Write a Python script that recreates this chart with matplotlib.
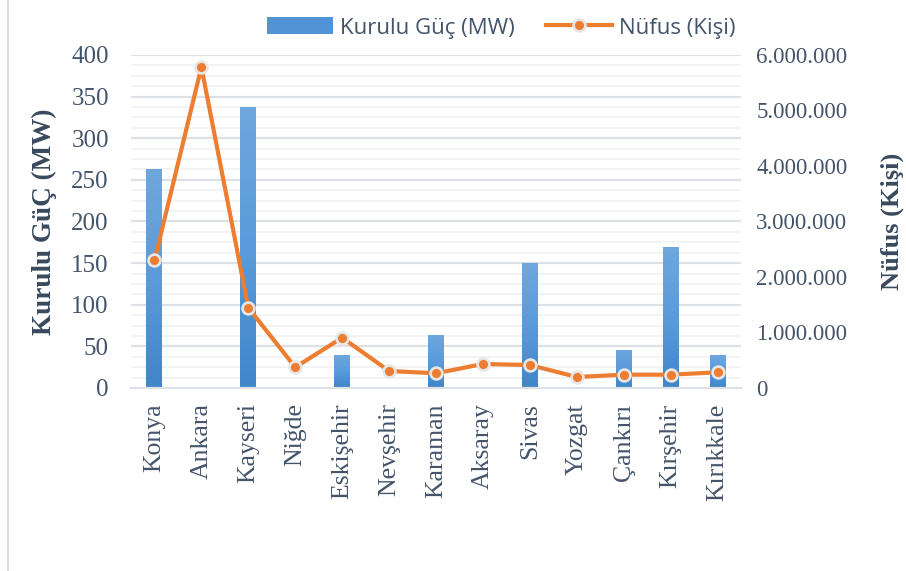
import matplotlib.pyplot as plt
import numpy as np
from matplotlib.ticker import MultipleLocator, FuncFormatter
from matplotlib.lines import Line2D
from matplotlib.patches import Patch
from matplotlib.colors import LinearSegmentedColormap

# veriler
iller = ['Konya', 'Ankara', 'Kayseri', 'Niğde', 'Eskişehir', 'Nevşehir', 'Karaman',
         'Aksaray', 'Sivas', 'Yozgat', 'Çankırı', 'Kırşehir', 'Kırıkkale']
kurulu_guc = [263, 0, 337, 0, 40, 0, 64, 0, 150, 0, 46, 169, 40]
nufus = [2300000, 5780000, 1447000, 373000, 906000, 306000, 265000,
         432000, 414000, 198000, 240000, 240000, 283000]

serif = ['Liberation Serif', 'DejaVu Serif']
yazi_renk = '#44546A'
baslik_renk = '#3A4A5E'
turuncu = '#ED7D31'

fig = plt.figure(figsize=(9.06, 5.71), dpi=100)
ax = fig.add_axes([0.1446, 0.3205, 0.6733, 0.5832])
ax2 = ax.twinx()

x = np.arange(len(iller))
bar_w = 0.34

# grid
ax.set_ylim(0, 400)
ax.yaxis.set_major_locator(MultipleLocator(50))
ax.yaxis.set_minor_locator(MultipleLocator(12.5))
ax.grid(axis='y', which='major', color='#DDE1E6', linewidth=1.6, zorder=0)
ax.grid(axis='y', which='minor', color='#F1F2F4', linewidth=1.3, zorder=0)
ax.set_axisbelow(True)

# barlar (gradyan)
bars = ax.bar(x, kurulu_guc, width=bar_w, color='none', edgecolor='none', zorder=2)
grad = np.linspace(0, 1, 256).reshape(-1, 1)
cmap = LinearSegmentedColormap.from_list('mavi', ['#3F86C8', '#5B9BDB', '#6EA7DD'])
for b in bars:
    h = b.get_height()
    if h <= 0:
        continue
    x0 = b.get_x()
    im = ax.imshow(grad, cmap=cmap, aspect='auto', origin='lower',
                   extent=[x0, x0 + b.get_width(), 0, h], zorder=2)
    im.set_clip_path(b)
ax.set_xlim(-0.5, len(iller) - 0.5)

# çizgi
ax2.plot(x, nufus, color=turuncu, linewidth=3, marker='o', markersize=8.5,
         markerfacecolor=turuncu, markeredgecolor='#E6E6E6', markeredgewidth=1.9, zorder=3)
ax2.set_ylim(0, 6000000)
ax2.yaxis.set_major_locator(MultipleLocator(1000000))
ax2.yaxis.set_major_formatter(FuncFormatter(lambda v, p: f'{int(v):,}'.replace(',', '.')))

for a in (ax, ax2):
    for s in a.spines.values():
        s.set_visible(False)
ax.spines['bottom'].set_visible(True)
ax.spines['bottom'].set_color('#DDE1E6')
ax.spines['bottom'].set_linewidth(1.6)

ax.tick_params(axis='y', which='both', length=0, pad=16, labelsize=18, labelcolor=yazi_renk)
ax2.tick_params(axis='y', which='both', length=0, pad=11, labelsize=16.5, labelcolor=yazi_renk)
ax.tick_params(axis='x', length=0, pad=11, labelsize=18.5, labelcolor=yazi_renk)
ax.set_xticks(x)
ax.set_xticklabels(iller, rotation=90)
for lab in ax.get_xticklabels() + ax.get_yticklabels() + ax2.get_yticklabels():
    lab.set_family(serif)

ax.set_ylabel('Kurulu GüÇ (MW)', family=serif, fontsize=19.5, fontweight='bold',
              color=baslik_renk, labelpad=10)
ax2.set_ylabel('Nüfus (Kişi)', family=serif, fontsize=19, fontweight='bold',
               color=baslik_renk, rotation=90, labelpad=24)

# lejant
handles = [Patch(facecolor='#5094D6', edgecolor='none'),
           Line2D([0], [0], color=turuncu, linewidth=3, marker='o', markersize=8.5,
                  markerfacecolor=turuncu, markeredgecolor='#E6E6E6', markeredgewidth=1.9)]
leg = fig.legend(handles, ['Kurulu Güç (MW)', 'Nüfus (Kişi)'], loc='center',
                 bbox_to_anchor=(0.553, 0.951), ncol=2, frameon=False,
                 prop={'family': ['Open Sans', 'DejaVu Sans'], 'size': 16},
                 handlelength=3.0, handleheight=0.8, columnspacing=1.4, handletextpad=0.3)
for t in leg.get_texts():
    t.set_color(yazi_renk)

# sol kenar çizgisi
fig.add_artist(Line2D([0.009, 0.009], [0, 1], color='#D9D9D9', linewidth=1.2,
                      transform=fig.transFigure))

fig.savefig('out.png', dpi=100)
